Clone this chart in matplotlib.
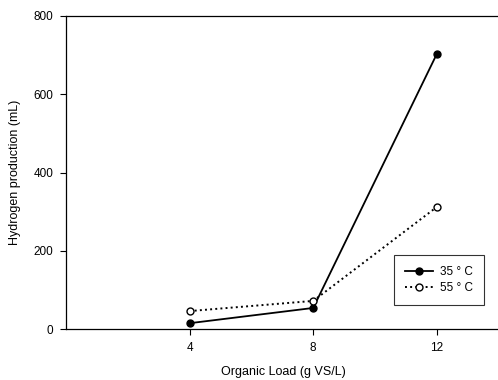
import matplotlib
matplotlib.use("Agg")
import matplotlib.pyplot as plt

plt.rcParams['font.family'] = ['Liberation Sans', 'DejaVu Sans']

# data
organic_load = [4, 8, 12]
h2_35c = [15, 54, 703]
h2_55c = [46, 72, 312]

fig = plt.figure(figsize=(4.98, 3.8), dpi=100)
# right edge sits just past the picture, as in the reference
ax = fig.add_axes([0.1325, 0.134, 0.875, 0.824])

ax.plot(organic_load, h2_35c, color='black', linestyle='-', linewidth=1.3,
        marker='o', markersize=5, markerfacecolor='black', label='35 ° C')
ax.plot(organic_load, h2_55c, color='black', linestyle=':', linewidth=1.4,
        marker='o', markersize=5, markerfacecolor='white', label='55 ° C')

ax.set_xlim(0, 14.1)
ax.set_ylim(0, 800)
ax.set_xticks(organic_load)
ax.set_yticks([0, 200, 400, 600, 800])
ax.tick_params(labelsize=8.5, direction='out', length=4, width=0.8, pad=5)
ax.set_xlabel('Organic Load (g VS/L)', fontsize=9, labelpad=9)
ax.set_ylabel('Hydrogen production (mL)', fontsize=9, labelpad=9)

for s in ax.spines.values():
    s.set_linewidth(0.9)

leg = ax.legend(loc='upper left', bbox_to_anchor=(0.74, 0.255), fontsize=8.5,
                frameon=True, fancybox=False, edgecolor='black',
                handlelength=2.4, borderpad=0.9, labelspacing=0.35,
                handletextpad=0.6)
leg.get_frame().set_linewidth(0.8)

fig.savefig('out.png', dpi=100)
